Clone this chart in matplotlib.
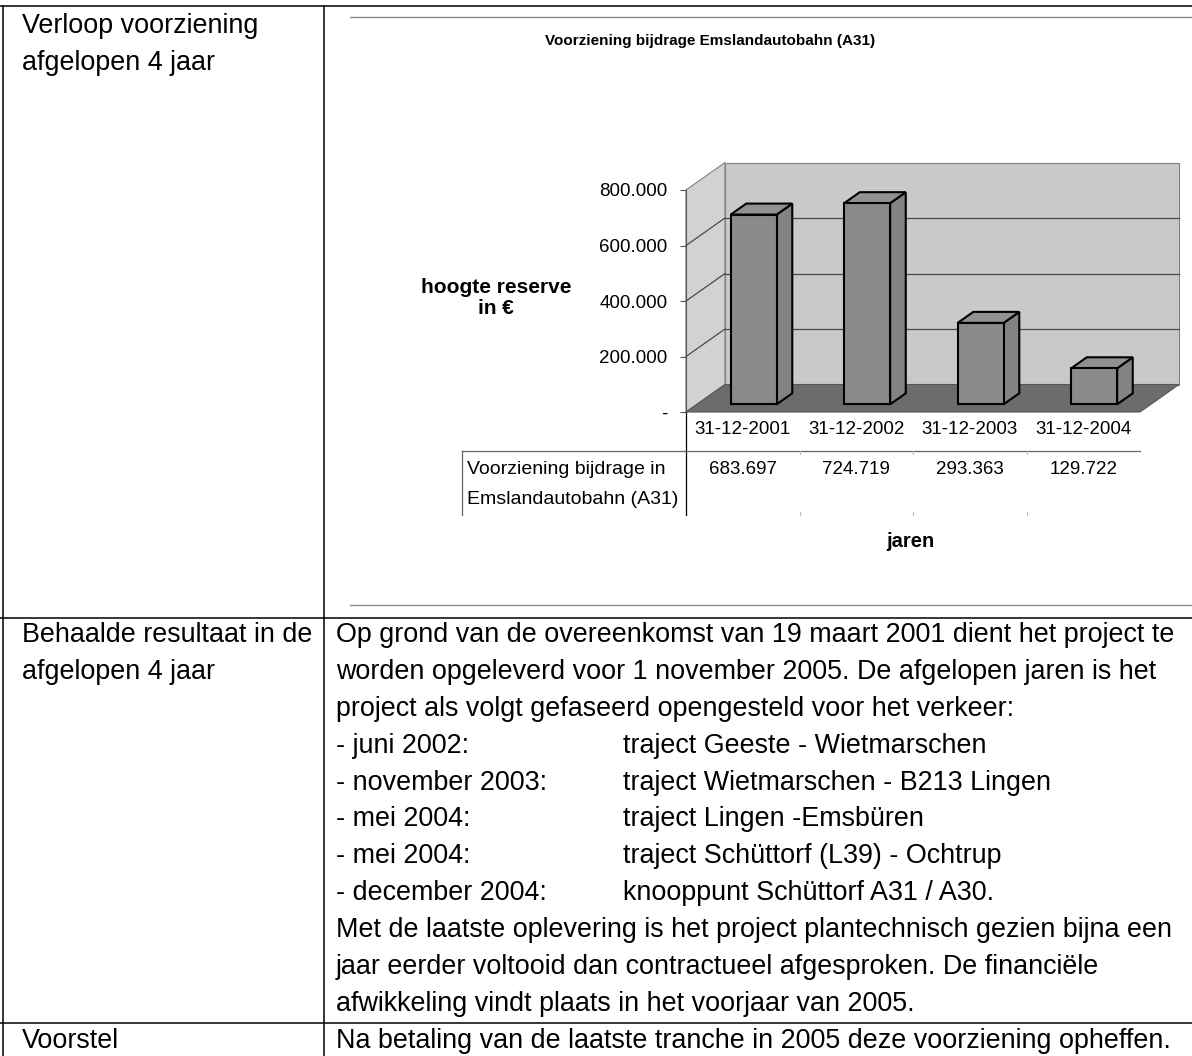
import matplotlib
matplotlib.use('Agg')
import matplotlib.pyplot as plt
from matplotlib.patches import Polygon
import matplotlib.transforms as mtransforms

# ---------------- data ----------------
categories = ['31-12-2001', '31-12-2002', '31-12-2003', '31-12-2004']
values = [683697, 724719, 293363, 129722]
y_ticks = [0, 200000, 400000, 600000, 800000]
y_tick_labels = ['-', '200.000', '400.000', '600.000', '800.000']
series_label = ['Voorziening bijdrage in', 'Emslandautobahn (A31)']
chart_title = 'Voorziening bijdrage Emslandautobahn (A31)'
y_title = ['hoogte reserve', 'in €']
x_title = 'jaren'

row1_label = ['Verloop voorziening', 'afgelopen 4 jaar']
row2_label = ['Behaalde resultaat in de', 'afgelopen 4 jaar']
row2_text = [
    ('Op grond van de overeenkomst van 19 maart 2001 dient het project te', None),
    ('worden opgeleverd voor 1 november 2005. De afgelopen jaren is het', None),
    ('project als volgt gefaseerd opengesteld voor het verkeer:', None),
    ('- juni 2002:', 'traject Geeste - Wietmarschen'),
    ('- november 2003:', 'traject Wietmarschen - B213 Lingen'),
    ('- mei 2004:', 'traject Lingen -Emsbüren'),
    ('- mei 2004:', 'traject Schüttorf (L39) - Ochtrup'),
    ('- december 2004:', 'knooppunt Schüttorf A31 / A30.'),
    ('Met de laatste oplevering is het project plantechnisch gezien bijna een', None),
    ('jaar eerder voltooid dan contractueel afgesproken. De financiële', None),
    ('afwikkeling vindt plaats in het voorjaar van 2005.', None),
]
row3_label = 'Voorstel'
row3_text = 'Na betaling van de laatste tranche in 2005 deze voorziening opheffen.'


def fmt_nl(v):
    return f'{v:,}'.replace(',', '.')


# ---------------- layout ----------------
plt.rcParams['font.family'] = ['Liberation Sans', 'DejaVu Sans']
W, H = 1192, 1056
fig = plt.figure(figsize=(W / 100, H / 100), dpi=100)
fig.patch.set_facecolor('white')
pg = fig.add_axes([0, 0, 1, 1])
pg.set_xlim(0, W)
pg.set_ylim(H, 0)
pg.axis('off')

BODY = 19.4
LW = 1.1
# table borders
pg.plot([0, W], [6, 6], color='black', lw=LW)
pg.plot([3, 3], [6, H], color='black', lw=LW)
pg.plot([324, 324], [6, H], color='black', lw=LW)
pg.plot([0, W], [618, 618], color='black', lw=LW)
pg.plot([0, W], [1023, 1023], color='black', lw=LW)

# left column labels
for k, s in enumerate(row1_label):
    pg.text(22, 33 + 37 * k, s, fontsize=BODY, va='baseline', ha='left')
for k, s in enumerate(row2_label):
    pg.text(22, 642 + 36.9 * k, s, fontsize=BODY, va='baseline', ha='left')
pg.text(22, 1048, row3_label, fontsize=BODY, va='baseline', ha='left')

# right column text
for k, (a, b) in enumerate(row2_text):
    yb = 642 + 36.9 * k
    pg.text(336, yb, a, fontsize=BODY, va='baseline', ha='left')
    if b:
        pg.text(623, yb, b, fontsize=BODY, va='baseline', ha='left')
pg.text(336, 1048, row3_text, fontsize=BODY, va='baseline', ha='left')

# chart frame lines
pg.plot([350, W], [17, 17], color='#8a8a8a', lw=1.0)
pg.plot([350, W], [605, 605], color='#8a8a8a', lw=1.0)

# chart title and axis titles
pg.text(710, 45, chart_title, fontsize=11, fontweight='bold', ha='center', va='baseline')
pg.text(496, 293, y_title[0], fontsize=15, fontweight='bold', ha='center', va='baseline')
pg.text(496, 313.5, y_title[1], fontsize=15, fontweight='bold', ha='center', va='baseline')
pg.text(910, 547, x_title, fontsize=14.5, fontweight='bold', ha='center', va='baseline')

# ---------------- 3D bar chart ----------------
X0, X1, YB, YT = 686, 1140, 412, 190
ax = fig.add_axes([X0 / W, 1 - YB / H, (X1 - X0) / W, (YB - YT) / H])
n = len(categories)
vmax = y_ticks[-1]
ax.set_xlim(0, n)
ax.set_ylim(0, vmax)
ax.patch.set_visible(False)
for s in ['top', 'right', 'bottom']:
    ax.spines[s].set_visible(False)
ax.spines['left'].set_color('#555555')
ax.spines['left'].set_linewidth(0.8)
ax.set_xticks([])
ax.set_yticks(y_ticks)
ax.set_yticklabels(y_tick_labels, fontsize=13.5)
ax.tick_params(axis='y', direction='out', length=4.5, width=0.8, pad=9, color='#555555')

# depth offsets (pixels -> data units)
DXP, DYP = 39, 27.5
dx = DXP * n / (X1 - X0)
dy = DYP * vmax / (YB - YT)

wall_c = '#c9c9c9'
floor_c = '#6c6c6c'
bar_c = '#8a8a8a'
grid_c = '#4a4a4a'

def poly(pts, fc, ec, lw, z):
    p = Polygon(pts, closed=True, facecolor=fc, edgecolor=ec, lw=lw, zorder=z, clip_on=False)
    ax.add_patch(p)

# back wall
poly([(dx, dy), (n + dx, dy), (n + dx, vmax + dy), (dx, vmax + dy)], wall_c, '#808080', 0.8, 1)
# left wall
poly([(0, 0), (dx, dy), (dx, vmax + dy), (0, vmax)], '#d2d2d2', '#808080', 0.8, 1)
# floor
poly([(0, 0), (n, 0), (n + dx, dy), (dx, dy)], floor_c, '#555555', 0.8, 2)
# gridlines
for t in y_ticks[1:-1]:
    ax.plot([dx, n + dx], [t + dy, t + dy], color=grid_c, lw=0.9, zorder=1.5, clip_on=False)
    ax.plot([0, dx], [t, t + dy], color=grid_c, lw=0.9, zorder=1.5, clip_on=False)

# bars
f0, f1 = 0.28, 0.68
bw = 0.405
for i, v in enumerate(values):
    xa = i + 0.5 - bw / 2
    xb = i + 0.5 + bw / 2
    ox0, oy0 = f0 * dx, f0 * dy
    ox1, oy1 = f1 * dx, f1 * dy
    # right side
    poly([(xb + ox0, oy0), (xb + ox1, oy1), (xb + ox1, v + oy1), (xb + ox0, v + oy0)], '#838383', 'black', 1.5, 5)
    # top
    poly([(xa + ox0, v + oy0), (xb + ox0, v + oy0), (xb + ox1, v + oy1), (xa + ox1, v + oy1)], '#919191', 'black', 1.5, 5)
    # front
    poly([(xa + ox0, oy0), (xb + ox0, oy0), (xb + ox0, v + oy0), (xa + ox0, v + oy0)], bar_c, 'black', 1.5, 6)

# category labels & data table (x in data units, y in page pixels)
bt = mtransforms.blended_transform_factory(ax.transData, pg.transData)
for i, c in enumerate(categories):
    ax.text(i + 0.5, 430, c, transform=bt, fontsize=13.5, ha='center', va='center')
    ax.text(i + 0.5, 470, fmt_nl(values[i]), transform=bt, fontsize=13.5, ha='center', va='center')

ax.plot([0, 0], [YB, 515], transform=bt, color='black', lw=0.9, clip_on=False)
ax.plot([0, n], [451, 451], transform=bt, color='#666666', lw=0.9, clip_on=False)
pg.plot([462, X0], [451, 451], color='#666666', lw=0.9)
pg.plot([462, 462], [451, 515], color='#666666', lw=0.9)
for j in range(1, n):
    ax.plot([j, j], [451, 454], transform=bt, color='#bbbbbb', lw=0.8, clip_on=False)
    ax.plot([j, j], [512, 515], transform=bt, color='#bbbbbb', lw=0.8, clip_on=False)
pg.text(467, 470, series_label[0], fontsize=14, ha='left', va='center')
pg.text(467, 499, series_label[1], fontsize=14, ha='left', va='center')

fig.savefig('out.png', dpi=100)
